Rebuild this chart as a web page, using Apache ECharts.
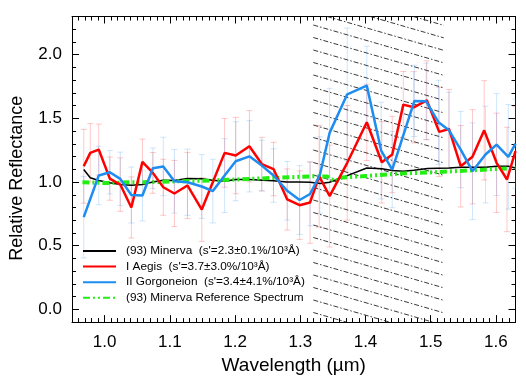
<!DOCTYPE html>
<html>
<head>
<meta charset="utf-8">
<script src="https://cdn.jsdelivr.net/npm/echarts@6/dist/echarts.min.js"></script>
<style>
html, body { margin: 0; padding: 0; background: #fff; }
#chart { width: 526px; height: 380px; }
</style>
</head>
<body>
<div id="chart"></div>
<script>
// values, wavelength in micron
var minervaWave = [0.968, 0.978, 0.991, 1.008, 1.024, 1.041, 1.058, 1.074, 1.090, 1.107, 1.127, 1.149, 1.165, 1.184, 1.201, 1.222, 1.242, 1.259, 1.279, 1.298, 1.315, 1.331, 1.345, 1.372, 1.402, 1.425, 1.441, 1.458, 1.474, 1.495, 1.528, 1.546, 1.564, 1.584, 1.601, 1.619, 1.630];
var minervaRefl = [1.098, 1.033, 1.012, 0.994, 0.980, 0.975, 0.980, 1.000, 1.014, 1.012, 1.027, 1.025, 1.014, 1.006, 1.020, 1.020, 1.014, 1.010, 1.000, 1.000, 0.998, 0.988, 0.998, 1.050, 1.110, 1.105, 1.090, 1.085, 1.093, 1.106, 1.110, 1.116, 1.116, 1.116, 1.124, 1.124, 1.110];

var aegisWave = [0.968, 0.978, 0.991, 1.008, 1.024, 1.041, 1.058, 1.074, 1.090, 1.107, 1.127, 1.149, 1.184, 1.201, 1.222, 1.241, 1.259, 1.280, 1.299, 1.315, 1.329, 1.345, 1.372, 1.402, 1.425, 1.441, 1.458, 1.474, 1.494, 1.513, 1.528, 1.546, 1.564, 1.582, 1.601, 1.617, 1.630];
var aegisRefl = [1.124, 1.229, 1.255, 1.027, 0.980, 0.800, 1.158, 1.072, 0.959, 0.910, 0.973, 0.784, 1.229, 1.208, 1.281, 1.141, 1.102, 0.863, 0.818, 0.839, 1.045, 0.890, 1.151, 1.469, 1.155, 1.216, 1.608, 1.587, 1.642, 1.394, 1.417, 1.124, 1.198, 1.406, 1.151, 1.020, 1.242];
var aegisErr = [0.29, 0.23, 0.20, 0.17, 0.21, 0.24, 0.18, 0.16, 0.22, 0.26, 0.26, 0.25, 0.27, 0.30, 0.28, 0.21, 0.21, 0.24, 0.27, 0.32, 0.40, 0.40, 0.45, 0.30, 0.32, 0.30, 0.26, 0.28, 0.31, 0.35, 0.31, 0.32, 0.37, 0.39, 0.39, 0.41, 0.35];

var gorgWave = [0.968, 0.991, 1.008, 1.024, 1.041, 1.058, 1.074, 1.090, 1.107, 1.127, 1.149, 1.166, 1.184, 1.201, 1.222, 1.241, 1.259, 1.280, 1.299, 1.315, 1.330, 1.345, 1.372, 1.402, 1.424, 1.441, 1.475, 1.493, 1.512, 1.528, 1.546, 1.564, 1.584, 1.601, 1.619, 1.630];
var gorgRefl = [0.724, 1.051, 1.077, 1.025, 0.898, 0.894, 1.108, 1.122, 1.006, 0.998, 0.965, 0.929, 1.051, 1.163, 1.202, 1.129, 1.051, 0.931, 0.859, 0.906, 1.055, 1.386, 1.689, 1.757, 1.247, 1.098, 1.637, 1.634, 1.469, 1.406, 1.255, 1.085, 1.216, 1.294, 1.198, 1.302];
var gorgErr = [0.32, 0.23, 0.17, 0.21, 0.22, 0.20, 0.16, 0.23, 0.25, 0.26, 0.25, 0.25, 0.29, 0.31, 0.28, 0.20, 0.21, 0.23, 0.27, 0.25, 0.30, 0.35, 0.52, 0.31, 0.38, 0.30, 0.28, 0.30, 0.33, 0.30, 0.30, 0.38, 0.38, 0.40, 0.41, 0.35];

var refWave = [0.966, 1.001, 1.041, 1.077, 1.115, 1.160, 1.202, 1.262, 1.319, 1.341, 1.353, 1.364, 1.394, 1.455, 1.505, 1.556, 1.606, 1.630];
var refRefl = [0.998, 0.992, 0.998, 1.000, 1.006, 1.012, 1.020, 1.033, 1.045, 1.043, 1.006, 1.035, 1.045, 1.067, 1.077, 1.090, 1.104, 1.110];

var hatchBand = [1.32, 1.52];

var names = [
  "(93) Minerva  (s'=2.3±0.1%/10³Å)",
  "I Aegis  (s'=3.7±3.0%/10³Å)",
  "II Gorgoneion  (s'=3.4±4.1%/10³Å)",
  "(93) Minerva Reference Spectrum"
];

var font = "'Liberation Sans', Arial, Helvetica, sans-serif";

function pairs(xs, ys) {
  return xs.map(function (x, i) { return [x, ys[i]]; });
}
function bars(xs, ys, es) {
  return xs.map(function (x, i) { return [x, ys[i] - es[i], ys[i] + es[i]]; });
}

function errItem(color) {
  return function (params, api) {
    var lo = api.coord([api.value(0), api.value(1)]);
    var hi = api.coord([api.value(0), api.value(2)]);
    var c = 3;
    var st = { stroke: color, lineWidth: 1, fill: null };
    return {
      type: 'group',
      children: [
        { type: 'line', shape: { x1: lo[0], y1: lo[1], x2: hi[0], y2: hi[1] }, style: st },
        { type: 'line', shape: { x1: lo[0] - c, y1: lo[1], x2: lo[0] + c, y2: lo[1] }, style: st },
        { type: 'line', shape: { x1: hi[0] - c, y1: hi[1], x2: hi[0] + c, y2: hi[1] }, style: st }
      ]
    };
  };
}

// diagonal dash-dot hatching over the masked band
function hatchItem(params, api) {
  var cs = params.coordSys;
  var xa = api.coord([api.value(0), 0])[0];
  var xb = api.coord([api.value(1), 0])[0];
  var top = cs.y, bot = cs.y + cs.height;
  var slope = 0.29, gap = 12.5;
  var drop = slope * (xb - xa);
  var kids = [];
  for (var y0 = top + 8.5 - Math.ceil(drop / gap) * gap; y0 < bot; y0 += gap) {
    var sx = xa, sy = y0, ex = xb, ey = y0 + drop;
    if (sy < top) { sx = xa + (top - y0) / slope; sy = top; }
    if (ey > bot) { ex = xa + (bot - y0) / slope; ey = bot; }
    if (sx >= ex) continue;
    kids.push({
      type: 'line',
      shape: { x1: sx, y1: sy, x2: ex, y2: ey },
      style: { stroke: '#3a3a3a', lineWidth: 1, lineDash: [5, 2, 1.5, 2] }
    });
  }
  return { type: 'group', children: kids };
}

var chart = echarts.init(document.getElementById('chart'));

function axisBase(minorSplit) {
  return {
    axisLine: { show: true, onZero: false, lineStyle: { color: '#000', width: 1 } },
    axisTick: { show: true, inside: true, length: 7, lineStyle: { color: '#000' } },
    minorTick: { show: true, splitNumber: minorSplit, length: 4, lineStyle: { color: '#000' } },
    splitLine: { show: false },
    minorSplitLine: { show: false }
  };
}

var tickLabel = {
  fontFamily: font, fontSize: 17, color: '#000',
  showMinLabel: false, showMaxLabel: false,
  formatter: function (v) { return v.toFixed(1); }
};

var option = {
  animation: false,
  backgroundColor: '#fff',
  textStyle: { fontFamily: font },
  grid: { left: 66, right: 10.5, top: 16.5, bottom: 57.3, containLabel: false },
  legend: {
    data: names,
    orient: 'vertical',
    left: 77,
    top: 240,
    itemWidth: 33,
    itemHeight: 12,
    itemGap: 3.6,
    itemStyle: { opacity: 0 },
    textStyle: { fontFamily: font, fontSize: 11.8, color: '#000', padding: [0, 0, 0, 5] }
  },
  xAxis: [
    Object.assign(axisBase(10), {
      type: 'value', position: 'bottom', min: 0.95, max: 1.63, splitNumber: 7,
      name: 'Wavelength (µm)', nameLocation: 'middle', nameGap: 28,
      nameTextStyle: { fontFamily: font, fontSize: 19, color: '#000' },
      axisLabel: Object.assign({ margin: 12 }, tickLabel)
    }),
    Object.assign(axisBase(10), {
      type: 'value', position: 'top', min: 0.95, max: 1.63, splitNumber: 7,
      axisLabel: { show: false }
    })
  ],
  yAxis: [
    Object.assign(axisBase(5), {
      type: 'value', position: 'left', min: -0.1, max: 2.3, splitNumber: 5,
      name: 'Relative Reflectance', nameLocation: 'middle', nameGap: 46,
      nameTextStyle: { fontFamily: font, fontSize: 18, color: '#000', padding: [0, 18, 0, 0] },
      axisLabel: Object.assign({ margin: 10 }, tickLabel)
    }),
    Object.assign(axisBase(5), {
      type: 'value', position: 'right', min: -0.1, max: 2.3, splitNumber: 5,
      axisLabel: { show: false }
    })
  ],
  series: [
    {
      type: 'custom', name: 'hatch', silent: true, clip: true,
      renderItem: hatchItem,
      encode: { x: [0, 1], y: 2 },
      data: [[hatchBand[0], hatchBand[1], 1]]
    },
    {
      type: 'custom', name: 'aegisErr', silent: true, clip: true,
      renderItem: errItem('rgba(255,0,0,0.22)'),
      encode: { x: 0, y: [1, 2] },
      data: bars(aegisWave, aegisRefl, aegisErr)
    },
    {
      type: 'custom', name: 'gorgErr', silent: true, clip: true,
      renderItem: errItem('rgba(30,140,240,0.22)'),
      encode: { x: 0, y: [1, 2] },
      data: bars(gorgWave, gorgRefl, gorgErr)
    },
    {
      type: 'line', name: names[0], symbol: 'none', clip: true,
      lineStyle: { color: '#000', width: 1.5 }, itemStyle: { color: '#000' },
      data: pairs(minervaWave, minervaRefl)
    },
    {
      type: 'line', name: names[3], symbol: 'none', clip: true,
      lineStyle: { color: '#22ee11', width: 4, type: [7, 3, 2, 3, 2, 3] }, itemStyle: { color: '#22ee11' },
      data: pairs(refWave, refRefl)
    },
    {
      type: 'line', name: names[1], symbol: 'none', clip: true,
      lineStyle: { color: '#ff0000', width: 2.5 }, itemStyle: { color: '#ff0000' },
      data: pairs(aegisWave, aegisRefl)
    },
    {
      type: 'line', name: names[2], symbol: 'none', clip: true,
      lineStyle: { color: '#1e8cf0', width: 2.5 }, itemStyle: { color: '#1e8cf0' },
      data: pairs(gorgWave, gorgRefl)
    }
  ]
};

chart.setOption(option);
</script>
</body>
</html>
